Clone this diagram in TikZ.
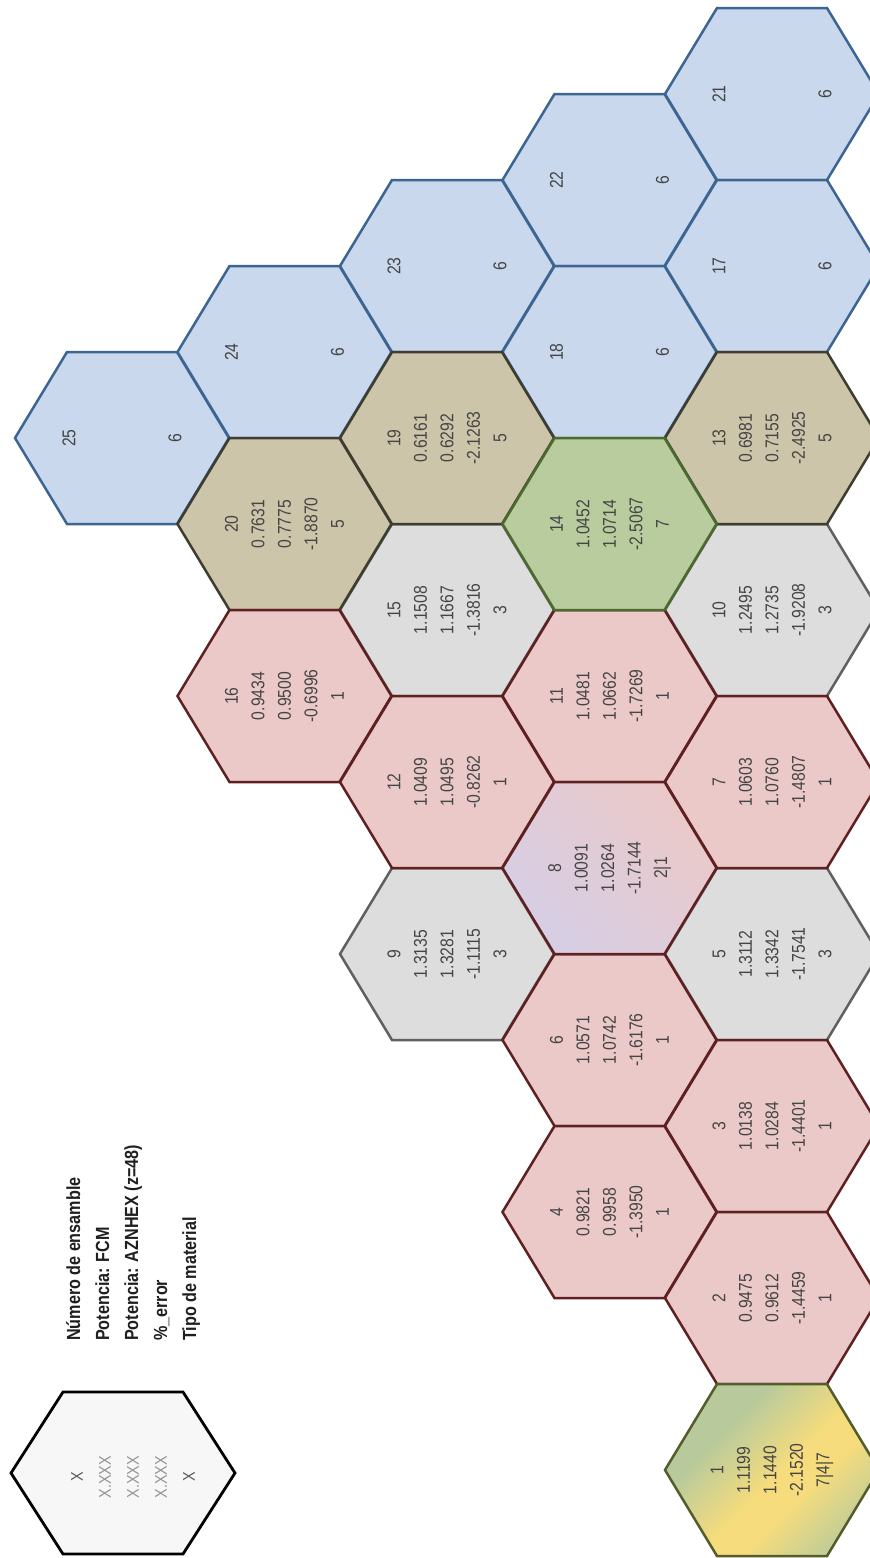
\documentclass[tikz,border=0pt]{standalone}
\usepackage{fontspec}
\setmainfont[FakeStretch=0.85]{Liberation Sans}
\usepackage{tikz}
\usetikzlibrary{positioning}
\usepackage{xcolor}

\definecolor{pinkfill}{HTML}{EBC9C9}
\definecolor{pinkline}{HTML}{5E2020}
\definecolor{greyfill}{HTML}{DDDDDD}
\definecolor{greyline}{HTML}{606060}
\definecolor{tanfill}{HTML}{CDC5A9}
\definecolor{tanline}{HTML}{3E3D30}
\definecolor{bluefill}{HTML}{C9D8EC}
\definecolor{blueline}{HTML}{3C6592}
\definecolor{greenfill}{HTML}{B9CC9E}
\definecolor{greenline}{HTML}{4B6A2E}
\definecolor{lavender}{HTML}{D6CEE5}
\definecolor{mixgreen}{HTML}{B8CA9C}
\definecolor{mixyellow}{HTML}{F6DC7C}
\definecolor{mixline}{HTML}{545C2C}
\definecolor{textgrey}{HTML}{454545}
\definecolor{keyfill}{HTML}{F7F7F7}

\pgfdeclarehorizontalshading{bandmix}{100bp}{color(0bp)=(mixgreen); color(34bp)=(mixgreen); color(52bp)=(mixyellow); color(60bp)=(mixyellow); color(78bp)=(mixgreen); color(100bp)=(mixgreen)}

% flat-top hexagon round (x,y), in pixels of the map
\newcommand{\hexpath}[2]{(#1-107,#2) -- (#1-55,#2-86) -- (#1+55,#2-86) -- (#1+107,#2) -- (#1+55,#2+86) -- (#1-55,#2+86) -- cycle}

\begin{document}
\begin{tikzpicture}[
  x=1pt, y=-1pt,
  cell/.style={line width=2.5pt, line join=miter},
  mat1/.style={cell, fill=pinkfill, draw=pinkline},
  mat3/.style={cell, fill=greyfill, draw=greyline},
  mat5/.style={cell, fill=tanfill, draw=tanline},
  mat6/.style={cell, fill=bluefill, draw=blueline},
  mat7/.style={cell, fill=greenfill, draw=greenline},
  mat21/.style={cell, draw=pinkline, left color=pinkfill, right color=lavender, shading angle=-45},
  mat747/.style={cell, draw=mixline, shade, shading=bandmix, shading angle=-45},
  celltext/.style={rotate=90, align=center, inner sep=0, text=textgrey, font=\fontsize{18.5}{26.5}\selectfont}
]
  \fill[white] (0,0) rectangle (870,1558);
  \useasboundingbox (0,0) rectangle (870,1558);
  \clip (0,0) rectangle (870,1558);

  % Blue cells (material 6)
  \foreach \n/\cx/\cy in {25/122/438, 24/284.5/352, 23/447/266, 22/609.5/180,
                          18/609.5/352, 21/772/94, 17/772/266} {
    \draw[mat6] \hexpath{\cx}{\cy};
    \node[celltext] (c\n) at (\cx,\cy) {\n\\~\\~\\~\\6};
  }

  % Cells with values
  \foreach \n/\cx/\cy/\m/\pa/\pb/\pe/\t in {
      15/447/610/mat3/1.1508/1.1667/-1.3816/3,
      10/772/610/mat3/1.2495/1.2735/-1.9208/3,
      9/447/954/mat3/1.3135/1.3281/-1.1115/3,
      5/772/954/mat3/1.3112/1.3342/-1.7541/3,
      20/284.5/524/mat5/0.7631/0.7775/-1.8870/5,
      19/447/438/mat5/0.6161/0.6292/-2.1263/5,
      13/772/438/mat5/0.6981/0.7155/-2.4925/5,
      16/284.5/696/mat1/0.9434/0.9500/-0.6996/1,
      12/447/782/mat1/1.0409/1.0495/-0.8262/1,
      11/609.5/696/mat1/1.0481/1.0662/-1.7269/1,
      7/772/782/mat1/1.0603/1.0760/-1.4807/1,
      6/609.5/1040/mat1/1.0571/1.0742/-1.6176/1,
      4/609.5/1212/mat1/0.9821/0.9958/-1.3950/1,
      3/772/1126/mat1/1.0138/1.0284/-1.4401/1,
      2/772/1298/mat1/0.9475/0.9612/-1.4459/1,
      14/609.5/524/mat7/1.0452/1.0714/-2.5067/7,
      8/609.5/868/mat21/1.0091/1.0264/-1.7144/2|1,
      1/772/1470/mat747/1.1199/1.1440/-2.1520/7|4|7} {
    \draw[\m] \hexpath{\cx}{\cy};
    \node[celltext] (c\n) at (\cx,\cy) {\n\\\pa\\\pb\\\pe\\\t};
  }

  % Key
  \draw[line width=2.8pt, fill=keyfill, draw=black]
    (11,1473) -- (63,1392) -- (183,1392) -- (235,1473) -- (183,1554) -- (63,1554) -- cycle;
  \node[celltext, font=\fontsize{17}{28}\selectfont] (key) at (133,1477)
    {\textcolor{black!65}{X}\\\textcolor{black!42}{X.XXX}\\\textcolor{black!42}{X.XXX}\\\textcolor{black!42}{X.XXX}\\\textcolor{black!65}{X}};
  \node[rotate=90, anchor=north west, align=left, inner sep=0, text=black!88,
        font=\bfseries\fontsize{19}{29}\selectfont] (keytext) at (66,1341)
    {Número de ensamble\\Potencia: FCM\\Potencia: AZNHEX (z=48)\\\%\_error\\Tipo de material};
\end{tikzpicture}
\end{document}
